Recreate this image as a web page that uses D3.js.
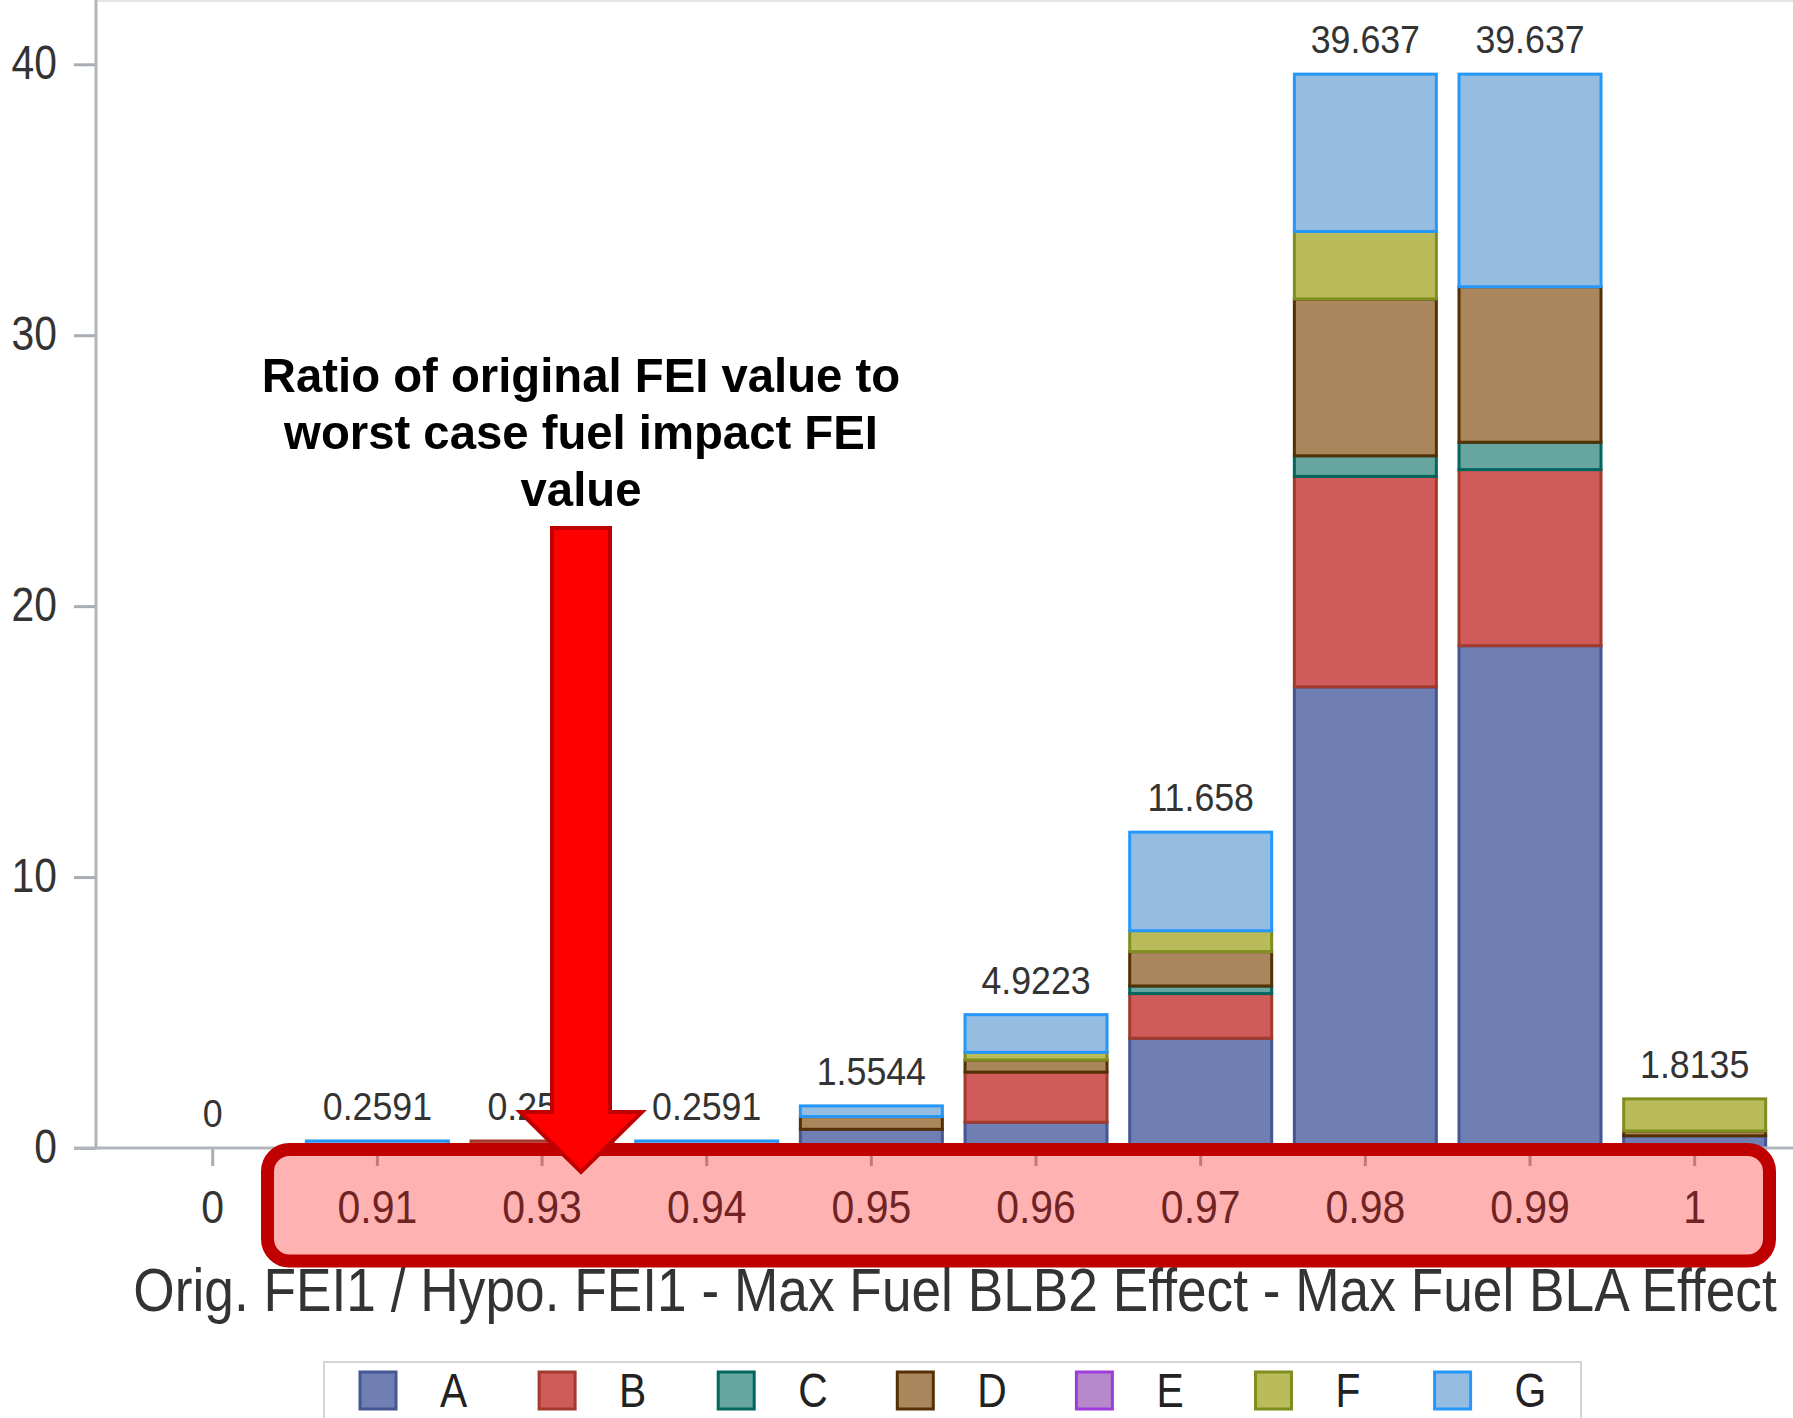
<!DOCTYPE html>
<html lang="en">
<head>
<meta charset="UTF-8">
<title>Stacked bars - FEI ratio</title>
<style>
  html, body { margin: 0; padding: 0; background: #fff; }
  svg { display: block; }
  text { font-family: "Liberation Sans", Arial, sans-serif; }
</style>
</head>
<body>
<svg width="1793" height="1418"></svg>
<script src="https://d3js.org/d3.v7.min.js"></script>
<script>
// Chart data
var categories = ["0", "0.91", "0.93", "0.94", "0.95", "0.96", "0.97", "0.98", "0.99", "1"];
var totals = [0, 0.2591, 0.2591, 0.2591, 1.5544, 4.9223, 11.658, 39.637, 39.637, 1.8135];
var seriesA = [0, 0, 0, 0, 0.69, 0.95, 4.05, 17.02, 18.54, 0.45];
var seriesB = [0, 0, 0.2591, 0, 0, 1.85, 1.65, 7.77, 6.50, 0];
var seriesC = [0, 0, 0, 0, 0, 0, 0.28, 0.76, 1.01, 0];
var seriesD = [0, 0, 0, 0, 0.47, 0.45, 1.27, 5.79, 5.74, 0.18];
var seriesE = [0, 0, 0, 0, 0, 0, 0, 0, 0, 0];
var seriesF = [0, 0, 0, 0, 0, 0.28, 0.77, 2.49, 0, 1.1835];
var seriesG = [0, 0.2591, 0, 0.2591, 0.3944, 1.3923, 3.638, 5.807, 7.847, 0];
var keys = ["A", "B", "C", "D", "E", "F", "G"];
var yTicks = [0, 10, 20, 30, 40];
var xTitle = "Orig. FEI1 / Hypo. FEI1 - Max Fuel BLB2 Effect - Max Fuel BLA Effect";
var noteLines = ["Ratio of original FEI value to", "worst case fuel impact FEI", "value"];

var fills = ["#6f7eb3", "#d05b5b", "#66a5a0", "#a9865b", "#b689cd", "#babc5c", "#94bde1"];
var strokes = ["#445694", "#a23a2e", "#01665e", "#543005", "#9d3cdb", "#7f8e1f", "#2597fa"];

var allSeries = [seriesA, seriesB, seriesC, seriesD, seriesE, seriesF, seriesG];
var rows = categories.map(function(c, i) {
  var r = {cat: c, total: totals[i]};
  keys.forEach(function(k, j) { r[k] = allSeries[j][i]; });
  return r;
});

var svg = d3.select("svg");
var axisX0 = 96, baseY = 1148;

var x = d3.scaleBand()
  .domain(categories)
  .range([130.4, 1777])
  .paddingInner(0.1376)
  .paddingOuter(0.0688);

var y = d3.scaleLinear()
  .domain([0, 40])
  .range([baseY, 64.3]);

var color = d3.scaleOrdinal().domain(keys).range(fills);
var edge = d3.scaleOrdinal().domain(keys).range(strokes);

// frame lines
svg.append("line")
  .attr("x1", axisX0).attr("x2", 1793).attr("y1", 1).attr("y2", 1)
  .attr("stroke", "#e2e4e6").attr("stroke-width", 2);

// stacked bars
var stacked = d3.stack().keys(keys)(rows);
svg.append("g").selectAll("g")
  .data(stacked)
  .enter().append("g")
  .attr("fill", d => color(d.key))
  .attr("stroke", d => edge(d.key))
  .attr("stroke-width", 3)
  .selectAll("rect")
  .data(d => d.filter(s => s[1] - s[0] > 0))
  .enter().append("rect")
  .attr("x", d => x(d.data.cat))
  .attr("width", x.bandwidth())
  .attr("y", d => y(d[1]))
  .attr("height", d => y(d[0]) - y(d[1]));

// total labels
svg.append("g").selectAll("text")
  .data(rows)
  .enter().append("text")
  .attr("transform", d => "translate(" + (x(d.cat) + x.bandwidth() / 2) + "," + (y(d.total) - 21) + ") scale(0.94,1)")
  .attr("text-anchor", "middle")
  .attr("font-size", 38)
  .attr("fill", "#333")
  .text(d => String(d.total));

// y axis
var yAxis = svg.append("g")
  .attr("transform", "translate(" + axisX0 + ",0)")
  .call(d3.axisLeft(y).tickValues(yTicks).tickSize(22).tickFormat(d3.format("d")));
yAxis.select(".domain").remove();
yAxis.selectAll(".tick line").attr("stroke", "#a8aeb4").attr("stroke-width", 3);
yAxis.selectAll(".tick text")
  .attr("x", null).attr("dy", null)
  .attr("transform", "translate(-39,14) scale(0.85,1)")
  .attr("font-size", 48)
  .attr("fill", "#333");

// x axis
var xAxis = svg.append("g")
  .attr("transform", "translate(0," + baseY + ")")
  .call(d3.axisBottom(x).tickSize(18));
xAxis.select(".domain").remove();
xAxis.selectAll(".tick line").attr("stroke", "#a8aeb4").attr("stroke-width", 3);
xAxis.selectAll(".tick text")
  .attr("y", null).attr("dy", null)
  .attr("transform", "translate(0,75) scale(0.89,1)")
  .attr("font-size", 46)
  .attr("fill", "#333");

svg.append("line")
  .attr("x1", axisX0).attr("x2", axisX0).attr("y1", 0).attr("y2", baseY + 1.5)
  .attr("stroke", "#b0b6bc").attr("stroke-width", 3);
svg.append("line")
  .attr("x1", axisX0 - 22).attr("x2", 1793).attr("y1", baseY).attr("y2", baseY)
  .attr("stroke", "#b0b6bc").attr("stroke-width", 3);

// x axis title
svg.append("text")
  .attr("transform", "translate(955,1311) scale(0.873,1)")
  .attr("text-anchor", "middle")
  .attr("font-size", 61)
  .attr("fill", "#333")
  .text(xTitle);

// highlight box over the tick labels
svg.append("rect")
  .attr("x", 267.5).attr("y", 1149.5)
  .attr("width", 1769.5 - 267.5).attr("height", 1261 - 1149.5)
  .attr("rx", 22).attr("ry", 22)
  .attr("fill", "#ff0000").attr("fill-opacity", 0.3)
  .attr("stroke", "#c00000").attr("stroke-width", 13);

// arrow
var arrowPts = [[552, 528], [610, 528], [610, 1112], [642, 1112], [581, 1172], [520, 1112], [552, 1112]];
svg.append("polygon")
  .attr("points", arrowPts.map(p => p.join(",")).join(" "))
  .attr("fill", "#ff0000")
  .attr("stroke", "#c00000")
  .attr("stroke-width", 4)
  .attr("stroke-linejoin", "miter");

// annotation
svg.append("g").selectAll("text")
  .data(noteLines)
  .enter().append("text")
  .attr("transform", (d, i) => "translate(581," + (392 + i * 57) + ") scale(0.965,1)")
  .attr("text-anchor", "middle")
  .attr("font-size", 49)
  .attr("font-weight", "bold")
  .attr("fill", "#000")
  .text(d => d);

// legend
var legend = svg.append("g");
legend.append("rect")
  .attr("x", 324).attr("y", 1362)
  .attr("width", 1581 - 324).attr("height", 70)
  .attr("fill", "#fff")
  .attr("stroke", "#d4d4d4").attr("stroke-width", 2);
var item = legend.selectAll("g.item")
  .data(keys)
  .enter().append("g")
  .attr("class", "item")
  .attr("transform", (d, i) => "translate(" + (360 + i * 179.1) + ",1372)");
item.append("rect")
  .attr("width", 36).attr("height", 37)
  .attr("fill", d => color(d))
  .attr("stroke", d => edge(d))
  .attr("stroke-width", 3);
item.append("text")
  .attr("transform", "translate(80,35) scale(0.85,1)")
  .attr("font-size", 48)
  .attr("fill", "#222")
  .text(d => d);
</script>
</body>
</html>
